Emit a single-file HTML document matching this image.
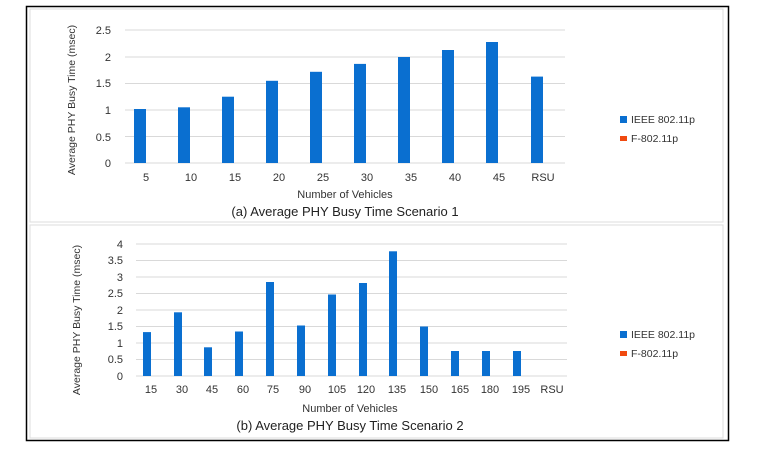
<!DOCTYPE html><html><head><style>body{margin:0;background:#fff}svg{display:block;font-family:"Liberation Sans",sans-serif}</style></head><body>
<svg width="757" height="454" viewBox="0 0 757 454">
<rect x="26.5" y="6.5" width="702" height="434" fill="#fff" stroke="#000" stroke-width="1.5"/>
<rect x="30" y="9" width="693" height="213" fill="none" stroke="#ddd"/>
<rect x="30" y="225" width="693" height="213" fill="none" stroke="#ddd"/>
<g stroke="#d9d9d9" stroke-width="1">
<line x1="125" x2="565" y1="30" y2="30"/><line x1="125" x2="565" y1="57" y2="57"/><line x1="125" x2="565" y1="83.5" y2="83.5"/><line x1="125" x2="565" y1="110" y2="110"/><line x1="125" x2="565" y1="136.5" y2="136.5"/><line x1="125" x2="565" y1="163" y2="163"/>
</g>
<g fill="#0a6fd0">
<rect x="134" y="109" width="12" height="54"/><rect x="178" y="107.3" width="12" height="55.7"/><rect x="222" y="96.7" width="12" height="66.3"/><rect x="266" y="80.8" width="12" height="82.2"/><rect x="310" y="71.8" width="12" height="91.2"/><rect x="354" y="63.9" width="12" height="99.1"/><rect x="398" y="57" width="12" height="106"/><rect x="442" y="50" width="12" height="113"/><rect x="486" y="42" width="12" height="121"/><rect x="531" y="76.6" width="12" height="86.4"/>
</g>
<g font-size="11" fill="#333" text-anchor="end"><text x="111" y="34">2.5</text><text x="111" y="61">2</text><text x="111" y="87">1.5</text><text x="111" y="114">1</text><text x="111" y="141">0.5</text><text x="111" y="167">0</text></g>
<g font-size="11" fill="#333" text-anchor="middle"><text x="146" y="181">5</text><text x="191" y="181">10</text><text x="235" y="181">15</text><text x="279" y="181">20</text><text x="323" y="181">25</text><text x="367" y="181">30</text><text x="411" y="181">35</text><text x="455" y="181">40</text><text x="499" y="181">45</text><text x="543" y="181">RSU</text>
<text x="345" y="198">Number of Vehicles</text><text x="345" y="216" font-size="13" fill="#222">(a) Average PHY Busy Time Scenario 1</text></g>
<text transform="translate(75,100) rotate(-90)" font-size="10.5" fill="#333" text-anchor="middle">Average  PHY Busy Time (msec)</text>
<g stroke="#d9d9d9"><line x1="136" x2="567" y1="244" y2="244"/><line x1="136" x2="567" y1="260.5" y2="260.5"/><line x1="136" x2="567" y1="277" y2="277"/><line x1="136" x2="567" y1="293.5" y2="293.5"/><line x1="136" x2="567" y1="310" y2="310"/><line x1="136" x2="567" y1="326.5" y2="326.5"/><line x1="136" x2="567" y1="343" y2="343"/><line x1="136" x2="567" y1="359.5" y2="359.5"/><line x1="136" x2="567" y1="376" y2="376"/></g>
<g fill="#0a6fd0">
<rect x="143" y="332.1" width="8" height="43.9"/><rect x="174" y="312.3" width="8" height="63.7"/><rect x="204" y="347.3" width="8" height="28.7"/><rect x="235" y="331.5" width="8" height="44.5"/><rect x="266" y="282" width="8" height="94"/><rect x="297" y="325.5" width="8" height="50.5"/><rect x="328" y="294.5" width="8" height="81.5"/><rect x="359" y="283" width="8" height="93"/><rect x="389" y="251.3" width="8" height="124.7"/><rect x="420" y="326.5" width="8" height="49.5"/><rect x="451" y="351" width="8" height="25"/><rect x="482" y="351" width="8" height="25"/><rect x="513" y="351" width="8" height="25"/>
</g>
<g font-size="11" fill="#333" text-anchor="end"><text x="123" y="248">4</text><text x="123" y="264">3.5</text><text x="123" y="281">3</text><text x="123" y="297">2.5</text><text x="123" y="314">2</text><text x="123" y="330">1.5</text><text x="123" y="347">1</text><text x="123" y="363">0.5</text><text x="123" y="380">0</text></g>
<g font-size="11" fill="#333" text-anchor="middle"><text x="151" y="393">15</text><text x="182" y="393">30</text><text x="212" y="393">45</text><text x="243" y="393">60</text><text x="273" y="393">75</text><text x="305" y="393">90</text><text x="337" y="393">105</text><text x="366" y="393">120</text><text x="397" y="393">135</text><text x="429" y="393">150</text><text x="460" y="393">165</text><text x="490" y="393">180</text><text x="521" y="393">195</text><text x="552" y="393">RSU</text>
<text x="350" y="412">Number of Vehicles</text><text x="350" y="430" font-size="13" fill="#222">(b) Average PHY Busy Time Scenario 2</text></g>
<text transform="translate(80,320) rotate(-90)" font-size="10.5" fill="#333" text-anchor="middle">Average PHY Busy Time (msec)</text>
<g font-size="10.5" fill="#333">
<rect x="620" y="116" width="7" height="7" fill="#0a6fd0"/><text x="631" y="123">IEEE 802.11p</text>
<rect x="620" y="136" width="7" height="5" fill="#f04a10"/><text x="631" y="142">F-802.11p</text>
<rect x="620" y="331" width="7" height="7" fill="#0a6fd0"/><text x="631" y="338">IEEE 802.11p</text>
<rect x="620" y="351" width="7" height="5" fill="#f04a10"/><text x="631" y="357">F-802.11p</text>
</g>
</svg></body></html>
